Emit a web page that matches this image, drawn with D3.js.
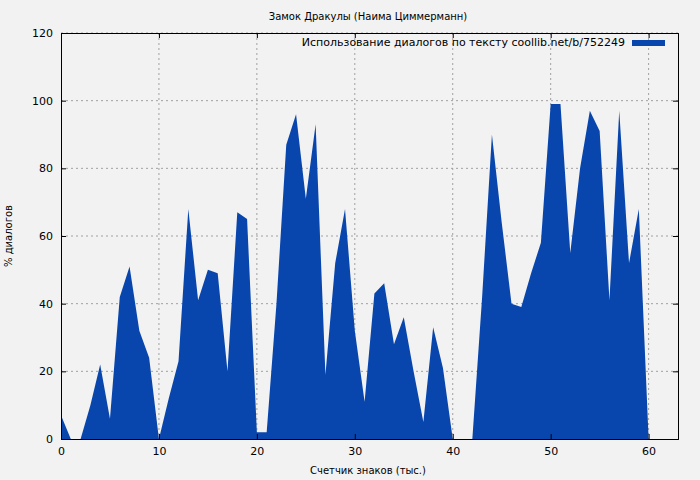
<!DOCTYPE html>
<html><head><meta charset="utf-8">
<script src="https://cdn.jsdelivr.net/npm/d3@7"></script>
<style>body{margin:0;background:#f2f2f2;font-family:"DejaVu Sans",sans-serif;}</style>
</head><body><div id="chart"></div>
<script>
// values
var xs = d3.range(0, 61);
var pct = [7,0,0,10,22,6,42,51,32,24,0,12,23,68,41,50,49,20,67,65,2,2,40,87,96,71,93,19,52,68,32,11,43,46,28,36,20,5,33,21,0,0,0,42,90,64,40,39,49,58,99,99,55,80,97,91,41,97,52,68,0];
var xTicks = [0,10,20,30,40,50,60];
var yTicks = [0,20,40,60,80,100,120];

var W = 700, H = 480;
var margin = {top: 33, right: 22, bottom: 41, left: 61};
var width = W - margin.left - margin.right, height = H - margin.top - margin.bottom;

var svg = d3.select("#chart").append("svg").attr("width", W).attr("height", H)
    .style("background", "#f2f2f2");
var g = svg.append("g").attr("transform", "translate(" + margin.left + "," + margin.top + ")");

var x = d3.scaleLinear().domain([0, 63]).range([0, width]);
var y = d3.scaleLinear().domain([0, 120]).range([height, 0]);

// grid
g.selectAll(".gx").data(xTicks.slice(1, -0 || undefined)).enter().append("line")
    .attr("x1", d => x(d)).attr("x2", d => x(d)).attr("y1", 0).attr("y2", height)
    .attr("stroke", "#a0a0a0").attr("stroke-dasharray", "2,3");
g.selectAll(".gy").data(yTicks.slice(1)).enter().append("line")
    .attr("y1", d => y(d)).attr("y2", d => y(d)).attr("x1", 0).attr("x2", width)
    .attr("stroke", "#a0a0a0").attr("stroke-dasharray", "2,3");

// area
var area = d3.area().x((d, i) => x(xs[i])).y0(y(0)).y1(d => y(d));
g.append("path").datum(pct).attr("d", area).attr("fill", "#0846ad");

// axes
g.append("g").attr("transform", "translate(0," + height + ")")
    .call(d3.axisBottom(x).tickValues(xTicks).tickSize(-5).tickPadding(8));
g.append("g").call(d3.axisLeft(y).tickValues(yTicks).tickSize(-5).tickPadding(8));
g.append("g").call(d3.axisTop(x).tickValues(xTicks).tickSize(-5).tickFormat(""));
g.append("g").attr("transform", "translate(" + width + ",0)")
    .call(d3.axisRight(y).tickValues(yTicks).tickSize(-5).tickFormat(""));
g.selectAll(".domain").attr("stroke", "#000");
g.selectAll(".tick text").attr("font-size", 11).attr("font-family", "DejaVu Sans").attr("fill", "#000");

// titles
svg.append("text").attr("x", 368).attr("y", 20).attr("text-anchor", "middle")
    .attr("font-size", 10).text("Замок Дракулы (Наима Циммерманн)");
svg.append("text").attr("x", 368).attr("y", 474).attr("text-anchor", "middle")
    .attr("font-size", 10).text("Счетчик знаков (тыс.)");
svg.append("text").attr("transform", "translate(12,236) rotate(-90)").attr("text-anchor", "middle")
    .attr("font-size", 10).text("% диалогов");

// legend
svg.append("text").attr("x", 625).attr("y", 46).attr("text-anchor", "end")
    .attr("font-size", 11).text("Использование диалогов по тексту coollib.net/b/752249");
svg.append("rect").attr("x", 632).attr("y", 40).attr("width", 33).attr("height", 6).attr("fill", "#0846ad");
</script></body></html>
